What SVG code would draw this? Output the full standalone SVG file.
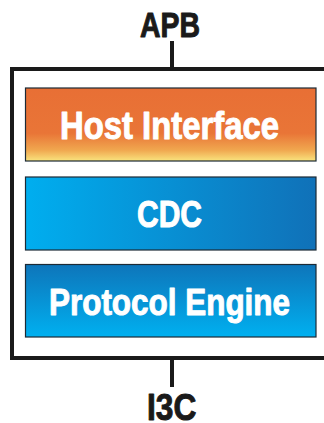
<svg xmlns="http://www.w3.org/2000/svg" width="324" height="423" viewBox="0 0 324 423">
  <style>
    .lbl { font-family: "Liberation Sans", Arial, sans-serif; font-weight: bold; text-anchor: middle; stroke-width: 1; stroke-linejoin: round; }
    .ext { fill: #1a1a1a; stroke: #1a1a1a; }
    .blk { fill: #ffffff; stroke: #ffffff; }
    .box { stroke: #1c2a36; stroke-width: 1.2; }
    .wire { stroke: #1a1a1a; stroke-width: 4; fill: none; }
  </style>
  <defs>
    <linearGradient id="gHost" x1="0" y1="0" x2="0" y2="1">
      <stop offset="0" stop-color="#e86f35"/>
      <stop offset="0.62" stop-color="#e97537"/>
      <stop offset="0.85" stop-color="#f0a74f"/>
      <stop offset="1" stop-color="#f9e47e"/>
    </linearGradient>
    <linearGradient id="gCdc" x1="0" y1="0" x2="1" y2="0">
      <stop offset="0" stop-color="#00aeef"/>
      <stop offset="1" stop-color="#1071b8"/>
    </linearGradient>
    <linearGradient id="gPe" x1="0" y1="0" x2="0" y2="1">
      <stop offset="0" stop-color="#0e75ba"/>
      <stop offset="1" stop-color="#00b0f0"/>
    </linearGradient>
  </defs>

  <rect width="324" height="423" fill="#ffffff"/>

  <!-- connectors and enclosing frame -->
  <g id="connectors">
    <path class="wire" d="M330 69 H12 V358 H330"/>
    <line class="wire" x1="172" y1="41" x2="172" y2="69"/>
    <line class="wire" x1="172" y1="358" x2="172" y2="387"/>
  </g>

  <g id="apb">
    <text class="lbl ext" font-size="35" transform="translate(170 37) scale(0.812 1)">APB</text>
  </g>

  <g id="host-interface">
    <rect class="box" x="25.5" y="88" width="290.5" height="73" fill="url(#gHost)"/>
    <text class="lbl blk" font-size="38" transform="translate(169.5 139) scale(0.864 1)">Host Interface</text>
  </g>

  <g id="cdc">
    <rect class="box" x="25.5" y="177" width="290.5" height="73" fill="url(#gCdc)"/>
    <text class="lbl blk" font-size="36" transform="translate(169.5 227) scale(0.833 1)">CDC</text>
  </g>

  <g id="protocol-engine">
    <rect class="box" x="25.5" y="264.5" width="290.5" height="72.5" fill="url(#gPe)"/>
    <text class="lbl blk" font-size="37.7" transform="translate(169.5 315) scale(0.834 1)">Protocol Engine</text>
  </g>

  <g id="i3c">
    <text class="lbl ext" font-size="37" transform="translate(171.7 420) scale(0.856 1)">I3C</text>
  </g>
</svg>
